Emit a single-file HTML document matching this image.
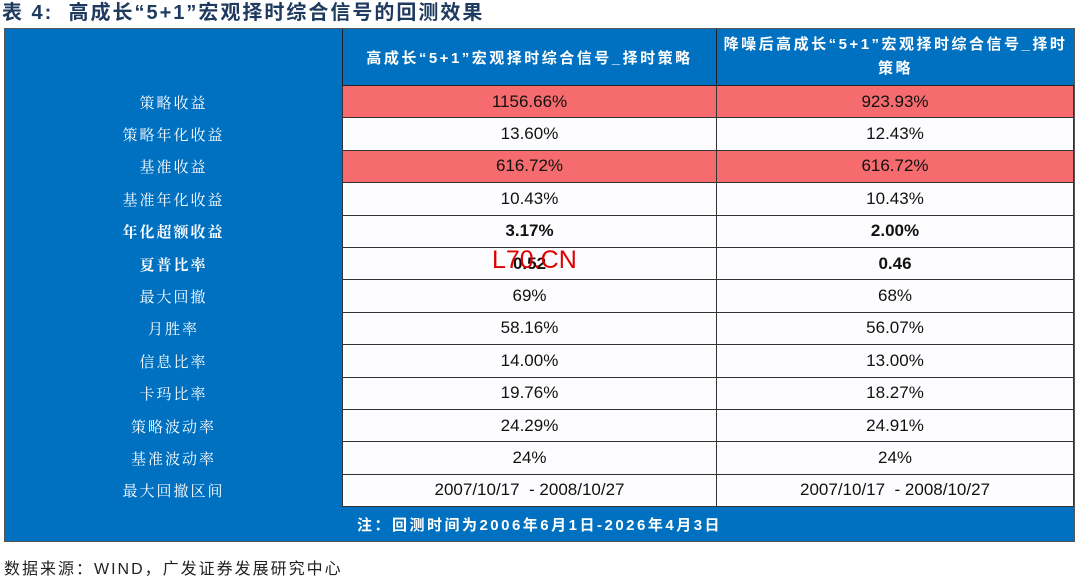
<!DOCTYPE html>
<html><head><meta charset="utf-8"><style>
body{margin:0;width:1080px;height:582px;background:#fff;position:relative;overflow:hidden;font-family:"Liberation Sans","Noto Sans CJK SC",sans-serif}
.a{position:absolute}
.c{position:absolute;display:flex;align-items:center;justify-content:center;text-align:center;box-sizing:border-box}
.lab{color:#fff;font-size:15px;letter-spacing:2px;font-family:"Noto Serif CJK SC","Noto Sans CJK SC",serif}
.v{font-size:17px;color:#111;border-bottom:1px solid #333;border-right:1px solid #333;background:#fdfdff}
.red{background:#f66b6e}
.b{font-weight:bold}
</style></head><body>
<div class="a" style="left:2px;top:0;font-size:20px;font-weight:bold;color:#1f3a5f;letter-spacing:2px;font-family:'Liberation Sans','Noto Sans CJK SC',sans-serif;line-height:26px">表 4:&nbsp; 高成长“5+1”宏观择时综合信号的回测效果</div>
<div class="a" style="left:4px;top:28px;width:1071px;height:514px;background:#0070c0;border:1px solid #555;box-sizing:border-box"></div>
<div class="c" style="left:342px;top:29px;width:375px;height:57px;color:#fff;font-size:15px;font-weight:bold;border-left:1px solid #222;border-bottom:1px solid #222;border-right:1px solid #222;letter-spacing:2.5px">高成长“5+1”宏观择时综合信号_择时策略</div>
<div class="c" style="left:717px;top:29px;width:357px;height:57px;color:#fff;font-size:15px;font-weight:bold;border-bottom:1px solid #222;letter-spacing:2.5px;line-height:24px;padding:0 6px">降噪后高成长“5+1”宏观择时综合信号_择时策略</div>
<div id="rows"></div>
<div class="c" style="left:4px;top:507px;width:1071px;height:35px;color:#fff;font-size:15px;font-weight:bold;letter-spacing:2.5px">注：回测时间为2006年6月1日-2026年4月3日</div>
<div class="a" style="left:492px;top:246px;color:#d00;font-size:25px">L70.CN</div>
<div class="a" style="left:4px;top:555px;font-size:16px;color:#222;letter-spacing:2px">数据来源：WIND，广发证券发展研究中心</div>
<script>
const labels=["策略收益","策略年化收益","基准收益","基准年化收益","年化超额收益","夏普比率","最大回撤","月胜率","信息比率","卡玛比率","策略波动率","基准波动率","最大回撤区间"];
const col1=["1156.66%","13.60%","616.72%","10.43%","3.17%","0.52","69%","58.16%","14.00%","19.76%","24.29%","24%","2007/10/17  - 2008/10/27"];
const col2=["923.93%","12.43%","616.72%","10.43%","2.00%","0.46","68%","56.07%","13.00%","18.27%","24.91%","24%","2007/10/17  - 2008/10/27"];
const redRows=[0,2];
const boldRows=[4,5];
const host=document.getElementById('rows');
const top0=86,rh=32.4;
labels.forEach((l,i)=>{
  const y=top0+i*rh;
  const d=document.createElement('div');
  d.className='c lab'+(boldRows.includes(i)?' b':'');
  d.style.cssText=`left:5px;top:${y}px;width:337px;height:${rh}px`;
  d.textContent=l;
  
  
  host.appendChild(d);
  [[col1,342,375],[col2,717,357]].forEach(([arr,x,w])=>{
    const e=document.createElement('div');
    e.className='c v'+(redRows.includes(i)?' red':'')+(boldRows.includes(i)?' b':'');
    e.style.cssText=`left:${x}px;top:${y}px;width:${w}px;height:${rh}px;white-space:pre;${x==342?'border-left:1px solid #333;':''}`;
    e.textContent=arr[i];
    
    
    host.appendChild(e);
  });
});
</script>
</body></html>
